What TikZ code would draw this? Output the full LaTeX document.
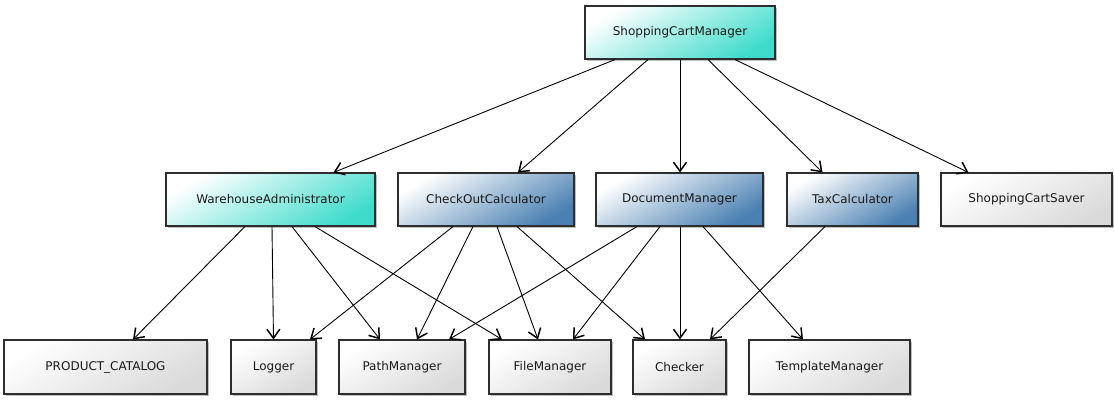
\documentclass[tikz,border=0pt]{standalone}
\usepackage{fontspec}
\setmainfont{DejaVu Sans}
\usetikzlibrary{arrows.meta,shadows}
\definecolor{cyanend}{HTML}{40DCCB}
\definecolor{blueend}{HTML}{4A80B2}
\definecolor{grayend}{HTML}{DADADA}
\definecolor{bordercol}{HTML}{2E2E2E}
\tikzset{
  box/.style={draw=bordercol, line width=1.1pt, rectangle, inner sep=0pt,
    font=\fontsize{12}{14}\selectfont, text=black!90,
    drop shadow={shadow xshift=2pt, shadow yshift=-2pt, opacity=0.25, fill=black}},
  cyanbox/.style={box, left color=white, right color=cyanend, shading angle=30},
  bluebox/.style={box, left color=white, right color=blueend, shading angle=30},
  graybox/.style={box, left color=white, right color=grayend, shading angle=30},
  dep/.style={draw=black, line width=0.9pt, -{Straight Barb[length=9pt,width=13pt,line width=1.5pt]}}
}
\begin{document}
\begin{tikzpicture}[x=1pt,y=-1pt]
\useasboundingbox (0,0) rectangle (1114,400);
% top
\node[cyanbox, minimum width=190pt, minimum height=53pt] (scm) at (680,32.5) {ShoppingCartManager};
% row 2
\node[cyanbox, minimum width=209pt, minimum height=53pt] (wa) at (270.5,199.5) {WarehouseAdministrator};
\node[bluebox, minimum width=176pt, minimum height=53pt] (coc) at (486,199.5) {CheckOutCalculator};
\node[bluebox, minimum width=167pt, minimum height=53pt] (dm) at (679.5,199.5) {DocumentManager};
\node[bluebox, minimum width=131pt, minimum height=53pt] (tax) at (852.5,199.5) {TaxCalculator};
\node[graybox, minimum width=171pt, minimum height=53pt] (scs) at (1026.5,199.5) {ShoppingCartSaver};
% row 3
\node[graybox, minimum width=203pt, minimum height=54pt] (pc) at (105.5,367) {PRODUCT\_CATALOG};
\node[graybox, minimum width=85pt, minimum height=54pt] (log) at (273.5,367) {Logger};
\node[graybox, minimum width=126pt, minimum height=54pt] (pm) at (402,367) {PathManager};
\node[graybox, minimum width=122pt, minimum height=54pt] (fm) at (550,367) {FileManager};
\node[graybox, minimum width=93pt, minimum height=54pt] (chk) at (679.5,367) {Checker};
\node[graybox, minimum width=161pt, minimum height=54pt] (tm) at (829.5,367) {TemplateManager};
% edges from top
\draw[dep] ([xshift=-65pt]scm.south) -- ([xshift=63pt]wa.north);
\draw[dep] ([xshift=-32pt]scm.south) -- ([xshift=32pt]coc.north);
\draw[dep] ([xshift=0pt]scm.south) -- ([xshift=0.5pt]dm.north);
\draw[dep] ([xshift=28pt]scm.south) -- ([xshift=-30pt]tax.north);
\draw[dep] ([xshift=55pt]scm.south) -- ([xshift=-58pt]scs.north);
% WarehouseAdministrator
\draw[dep] ([xshift=-25.5pt]wa.south) -- ([xshift=27.5pt]pc.north);
\draw[dep] ([xshift=1.5pt]wa.south) -- ([xshift=0pt]log.north);
\draw[dep] ([xshift=21.5pt]wa.south) -- ([xshift=-22pt]pm.north);
\draw[dep] ([xshift=44.5pt]wa.south) -- ([xshift=-48pt]fm.north);
% CheckOutCalculator
\draw[dep] ([xshift=-33pt]coc.south) -- ([xshift=36.5pt]log.north);
\draw[dep] ([xshift=-13pt]coc.south) -- ([xshift=15pt]pm.north);
\draw[dep] ([xshift=11pt]coc.south) -- ([xshift=-12pt]fm.north);
\draw[dep] ([xshift=31pt]coc.south) -- ([xshift=-34.5pt]chk.north);
% DocumentManager
\draw[dep] ([xshift=-42.5pt]dm.south) -- ([xshift=47pt]pm.north);
\draw[dep] ([xshift=-19.5pt]dm.south) -- ([xshift=23pt]fm.north);
\draw[dep] ([xshift=0.5pt]dm.south) -- ([xshift=0.5pt]chk.north);
\draw[dep] ([xshift=23.5pt]dm.south) -- ([xshift=-26.5pt]tm.north);
% TaxCalculator
\draw[dep] ([xshift=-27.5pt]tax.south) -- ([xshift=30.5pt]chk.north);
\end{tikzpicture}
\end{document}
